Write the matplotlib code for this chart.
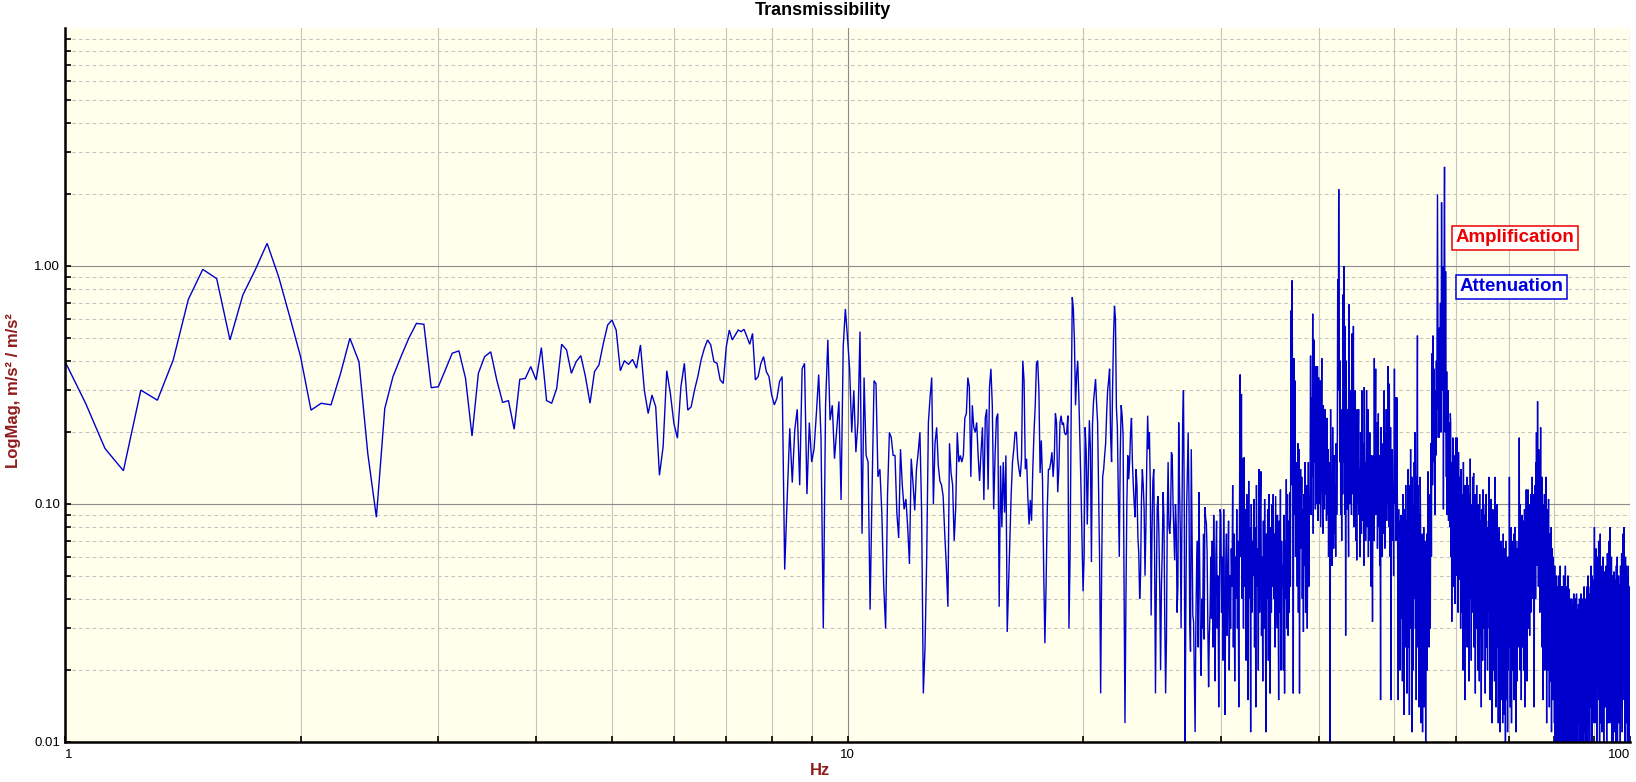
import numpy as np
import matplotlib
matplotlib.use("Agg")
import matplotlib.pyplot as plt
from matplotlib.ticker import LogLocator, NullFormatter, FixedLocator, FixedFormatter

plt.rcParams['font.family'] = ['Liberation Sans', 'DejaVu Sans']

# FFT frequency grid of the measurement
freq_start = 1.0
freq_step = 0.0625

# Magnitudes in thousandths (m/s^2 / m/s^2 x 1000)
mag_1_8 = [
    397, 265, 171, 138, 301, 273, 403, 724, 968, 885, 489, 755, 962, 1245, 902, 612,
    416, 248, 265, 261, 354, 497, 396, 163, 88, 252, 343, 416, 497, 574, 569, 308,
    311, 366, 430, 440, 337, 193, 354, 416, 436, 332, 267, 272, 206, 334, 337, 378,
    332, 454, 272, 265, 306, 469, 444, 354, 396, 420, 343, 265, 360, 384, 473, 565,
    593, 538, 363, 400, 386, 405, 372, 466, 301, 240, 287, 256, 132, 174, 363, 292,
    218, 189, 311, 390, 248, 256, 301, 343, 403, 451, 489, 466, 396, 390, 332, 321,
    458, 538, 489, 513, 538, 530, 542, 505, 469, 521, 332, 343, 390, 416, 360, 343,
    287, 261, 278, 327, 343, 53, 107, 208,
]
mag_8_16 = [
    123, 205, 250, 120, 370, 390, 110, 220,
    150, 170, 240, 350, 190, 30, 260, 490,
    225, 260, 155, 205, 270, 104, 460, 660,
    500, 370, 200, 300, 165, 220, 530, 75,
    340, 160, 150, 36, 115, 330, 320, 130,
    140, 92, 45, 30, 110, 200, 190, 160,
    160, 92, 72, 170, 120, 95, 105, 80,
    56, 155, 123, 94, 140, 165, 200, 92,
    16, 25, 60, 220, 280, 340, 100, 180,
    210, 145, 125, 120, 108, 75, 55, 37,
    180, 135, 120, 70, 97, 200, 150, 160,
    150, 160, 230, 240, 340, 310, 130, 260,
    210, 200, 220, 160, 125, 165, 210, 104,
    230, 250, 115, 310, 370, 260, 95, 160,
    230, 240, 37, 145, 80, 150, 92, 160,
    29, 45, 72, 110, 150, 170, 200, 200,
]
mag_16_30 = [
    155, 140, 130, 155, 400, 330, 140, 155,
    107, 82, 104, 85, 140, 200, 260, 390, 400, 300, 135, 185, 127, 53, 26, 45,
    95, 140, 140, 150, 165, 130, 155, 240, 220, 112, 140, 220, 235, 215, 220, 200,
    195, 200, 235, 30, 60, 240, 740, 660, 480, 260, 350, 400, 290, 190, 120, 70,
    43, 60, 210, 165, 82, 140, 225, 170, 57, 215, 270, 300, 335, 265, 220, 115,
    57, 16, 53, 130, 140, 160, 180, 240, 300, 330, 370, 195, 150, 300, 500, 680,
    600, 255, 210, 107, 60, 160, 260, 235, 195, 52, 12, 38, 100, 160, 127, 150,
    200, 230, 150, 120, 100, 88, 140, 120, 73, 62, 40, 50, 104, 140, 120, 95,
    50, 80, 150, 235, 170, 200, 120, 34, 77, 125, 140, 60, 16, 45, 97, 108,
    75, 44, 20, 45, 64, 112, 87, 32, 16, 27, 87, 150, 80, 75, 87, 165,
    160, 100, 77, 58, 100, 80, 35, 45, 220, 120, 77, 30, 87, 220, 300, 100,
    10, 35, 95, 135, 200, 107, 32, 24, 170, 73, 34, 32, 18, 11, 32, 55,
    70, 25, 112, 56, 25, 19, 40, 30, 75, 27, 97, 87, 83, 62, 30, 17,
    28, 35, 60, 33, 70, 25, 90, 45, 18, 60, 85, 30, 50, 14, 40, 95,
]
mag_30_53 = [
    90, 35, 60, 22, 95, 40, 13, 55, 75, 28, 45, 85, 20, 50, 30, 65,
    45, 120, 25, 75, 18, 60, 40, 95, 30, 70, 14, 85, 350, 60, 290, 40,
    155, 30, 157, 45, 95, 22, 110, 60, 15, 125, 40, 80, 11, 100, 35, 70,
    50, 105, 25, 80, 14, 120, 45, 65, 20, 140, 35, 90, 137, 28, 60, 18,
    85, 30, 105, 50, 11, 75, 40, 95, 22, 110, 55, 16, 80, 35, 100, 45,
    110, 40, 75, 25, 108, 60, 30, 90, 50, 15, 85, 35, 115, 20, 70, 45,
    55, 20, 90, 16, 70, 40, 127, 30, 110, 28, 85, 35, 112, 45, 650, 120,
    870, 200, 16, 410, 90, 330, 60, 150, 120, 45, 180, 35, 170, 16, 90, 140,
    65, 130, 40, 95, 29, 110, 55, 150, 35, 85, 120, 30, 75, 150, 45, 105,
    110, 420, 90, 280, 130, 630, 75, 490, 150, 300, 95, 380, 100, 200, 380, 85,
    340, 100, 250, 330, 80, 190, 410, 120, 75, 260, 140, 95, 250, 110, 180, 85,
    230, 90, 170, 60, 150, 80, 10, 250, 70, 130, 55, 210, 100, 65, 160, 75,
    120, 60, 180, 90, 140, 880, 300, 2100, 600, 150, 400, 90, 180, 70, 250, 110,
    760, 150, 1000, 90, 560, 28, 400, 180, 95, 250, 120, 60, 690, 200, 100, 300,
    150, 90, 520, 110, 200, 560, 80, 250, 130, 300, 70, 180, 58, 250, 100, 160,
    250, 90, 140, 60, 200, 110, 75, 300, 130, 85, 180, 55, 310, 100, 150, 70,
    120, 300, 80, 170, 250, 60, 140, 95, 200, 70, 110, 45, 160, 85, 32, 120,
    160, 70, 410, 100, 180, 370, 90, 140, 220, 65, 130, 240, 80, 160, 55, 110,
    15, 210, 90, 150, 60, 120, 180, 75, 300, 110, 65, 200, 130, 250, 85, 140,
    100, 380, 150, 80, 320, 120, 60, 210, 15, 140, 90, 170, 70, 120, 50, 160,
    370, 100, 160, 280, 70, 130, 280, 90, 45, 15, 95, 30, 70, 20, 85, 40,
    90, 33, 60, 18, 110, 40, 75, 13, 95, 50, 25, 120, 35, 65, 16, 85,
    60, 140, 25, 95, 13, 120, 45, 170, 30, 75, 11, 130, 55, 20, 100, 40,
]
mag_53_100 = [
    150, 45, 200, 30, 130, 15, 80, 155, 510, 25, 120, 60, 14, 90, 40, 130,
    80, 12, 60, 40, 75, 11, 50, 30, 80, 14, 65, 25, 70, 10, 55, 35,
    75, 20, 60, 137, 40, 83, 25, 70, 110, 30, 95, 180, 60, 250, 430, 120,
    510, 150, 280, 370, 200, 90, 300, 250, 160, 400, 190, 600, 2000, 640, 250, 470,
    190, 550, 300, 340, 700, 200, 450, 1850, 500, 860, 300, 1000, 95, 400, 1200, 2610,
    700, 200, 950, 280, 130, 360, 90, 240, 150, 300, 85, 220, 120, 180, 80, 240,
    220, 60, 150, 32, 120, 80, 190, 45, 100, 160, 55, 130, 38, 90, 190, 70,
    150, 50, 190, 70, 110, 35, 165, 85, 48, 130, 60, 100, 30, 140, 75, 45,
    110, 35, 80, 20, 150, 55, 40, 95, 15, 120, 60, 30, 100, 45, 130, 25,
    70, 120, 30, 90, 18, 60, 110, 40, 155, 50, 85, 22, 100, 35, 65, 130,
    40, 95, 135, 25, 75, 50, 110, 16, 85, 60, 30, 120, 45, 70, 20, 90,
    100, 35, 70, 18, 110, 45, 85, 28, 60, 14, 95, 50, 75, 22, 115, 40,
    100, 30, 65, 45, 90, 16, 70, 40, 110, 25, 55, 80, 20, 60, 35, 85,
    55, 130, 30, 90, 15, 75, 45, 105, 25, 65, 12, 95, 40, 70, 20, 85,
    50, 95, 18, 70, 130, 35, 60, 14, 85, 40, 100, 25, 55, 75, 12, 65,
    45, 80, 20, 60, 11, 55, 30, 70, 15, 50, 25, 65, 12, 40, 75, 18,
    55, 13, 65, 30, 45, 10, 70, 25, 50, 15, 60, 35, 11, 55, 20, 45,
    60, 25, 130, 40, 75, 14, 55, 30, 80, 12, 45, 65, 20, 70, 35, 50,
    30, 75, 15, 55, 80, 20, 45, 70, 11, 60, 35, 50, 18, 65, 40, 25,
    70, 30, 55, 190, 45, 100, 20, 65, 35, 80, 15, 60, 40, 90, 25, 75,
    50, 85, 20, 70, 35, 95, 14, 60, 45, 80, 25, 115, 40, 65, 18, 90,
    60, 115, 40, 85, 30, 100, 55, 28, 90, 45, 70, 35, 110, 50, 80, 40,
    130, 45, 90, 60, 110, 35, 80, 14, 70, 120, 50, 95, 40, 150, 60, 200,
    90, 140, 55, 270, 80, 130, 45, 170, 100, 60, 150, 35, 110, 75, 210, 50,
    120, 40, 90, 25, 130, 55, 70, 15, 100, 45, 80, 30, 110, 20, 65, 85,
    60, 130, 35, 80, 12, 95, 50, 70, 20, 85, 40, 105, 25, 60, 14, 75,
    45, 70, 18, 55, 30, 80, 11, 50, 25, 65, 35, 15, 60, 40, 20, 55,
    40, 12, 55, 25, 8, 45, 18, 35, 9, 50, 15, 30, 7, 40, 20, 45,
    30, 10, 50, 22, 8, 40, 15, 55, 12, 35, 7, 45, 20, 30, 9, 40,
    45, 18, 30, 8, 50, 25, 12, 40, 9, 35, 20, 55, 10, 30, 15, 42,
    22, 45, 9, 30, 14, 50, 25, 7, 38, 18, 44, 11, 33, 20, 8, 40,
    35, 12, 28, 8, 40, 20, 30, 10, 38, 15, 25, 7, 42, 18, 32, 9,
    30, 14, 40, 9, 25, 35, 11, 42, 18, 28, 8, 36, 20, 30, 12, 38,
    15, 33, 9, 40, 22, 30, 7, 35, 17, 42, 12, 28, 20, 38, 10, 32,
    40, 18, 30, 8, 36, 14, 45, 22, 11, 34, 26, 9, 40, 16, 30, 12,
    35, 10, 45, 20, 30, 8, 50, 25, 15, 38, 12, 42, 28, 9, 35, 18,
    45, 22, 55, 14, 38, 28, 9, 50, 30, 18, 42, 12, 35, 24, 48, 16,
    30, 80, 20, 45, 12, 55, 35, 25, 65, 15, 40, 10, 50, 28, 60, 18,
    45, 22, 35, 70, 15, 50, 30, 8, 42, 25, 75, 12, 38, 55, 20, 40,
    28, 50, 11, 40, 22, 60, 16, 35, 45, 9, 30, 52, 18, 42, 25, 36,
    14, 48, 30, 55, 20, 38, 8, 45, 26, 62, 15, 40, 32, 12, 50, 24,
    70, 20, 45, 30, 80, 12, 40, 55, 18, 35, 25, 60, 10, 42, 28, 50,
    22, 38, 9, 45, 30, 15, 52, 25, 40, 11, 35, 48, 18, 30, 8, 42,
    30, 55, 14, 40, 22, 60, 10, 35, 45, 20, 28, 50, 12, 38, 25, 44,
    18, 46, 32, 9, 55, 24, 40, 14, 36, 62, 20, 30, 11, 48, 26, 38,
    75, 20, 42, 30, 80, 15, 50, 28, 10, 45, 35, 60, 18, 40, 22, 55,
    12, 38, 25, 50, 9, 42, 30, 18, 55, 22, 35, 8, 45, 28, 40, 15,
    30,
]

x_ticks = [1, 10, 100]
x_tick_labels = ['1', '10', '100']
y_ticks = [0.01, 0.1, 1.0]
y_tick_labels = ['0.01', '0.10', '1.00']

mag = np.array(mag_1_8 + mag_8_16 + mag_16_30 + mag_30_53 + mag_53_100, dtype=float) / 1000.0
freq = freq_start + freq_step * np.arange(len(mag))

W, H = 1636, 782
fig = plt.figure(figsize=(W / 100, H / 100), dpi=100)
fig.patch.set_facecolor('white')
ax = fig.add_axes([65 / W, 1 - 742 / H, 1565 / W, 714 / H])
ax.set_facecolor('#FFFFEB')
ax.set_xscale('log')
ax.set_yscale('log')
ax.set_xlim(1, 100)
ax.set_ylim(0.01, 10)

ax.xaxis.set_major_locator(FixedLocator(x_ticks))
ax.xaxis.set_major_formatter(FixedFormatter(x_tick_labels))
ax.yaxis.set_major_locator(FixedLocator(y_ticks))
ax.yaxis.set_major_formatter(FixedFormatter(y_tick_labels))
ax.xaxis.set_minor_locator(LogLocator(base=10, subs=np.arange(2, 10), numticks=30))
ax.yaxis.set_minor_locator(LogLocator(base=10, subs=np.arange(2, 10), numticks=30))
ax.xaxis.set_minor_formatter(NullFormatter())
ax.yaxis.set_minor_formatter(NullFormatter())

ax.set_axisbelow(True)
ax.xaxis.grid(True, which='major', color='#8C8C8C', lw=0.8)
ax.xaxis.grid(True, which='minor', color='#C4C4C4', lw=0.8)
ax.yaxis.grid(True, which='major', color='#8C8C8C', lw=0.8)
ax.yaxis.grid(True, which='minor', color='#C4C4C4', lw=0.75, linestyle=(0, (3.5, 3)))

for s in ['top', 'right']:
    ax.spines[s].set_visible(False)
for s in ['left', 'bottom']:
    ax.spines[s].set_linewidth(1.8)
    ax.spines[s].set_color('black')

ax.tick_params(which='both', direction='in', length=4, width=1.2, color='black',
               top=False, right=False)
ax.tick_params(axis='x', which='major', labelsize=9.5, pad=5)
ax.tick_params(axis='y', which='major', labelsize=9.5, pad=3.5)

labels = ax.get_xticklabels()
labels[0].set_horizontalalignment('left')
labels[-1].set_horizontalalignment('right')

ax.plot(freq, mag, color='#0000CD', lw=1.0, solid_joinstyle='miter')

fig.text(0.503, 0.987, 'Transmissibility', ha='center', va='center',
         fontsize=13, fontweight='bold', color='black')
fig.text(0.008, 0.501, 'LogMag, m/s² / m/s²', rotation=90, ha='center', va='center',
         fontsize=12, fontweight='bold', color='#901C1C')
fig.text(0.501, 0.0145, 'Hz', ha='center', va='center',
         fontsize=12, fontweight='bold', color='#901C1C')

fig.text(1515 / W, 1 - 238 / H, 'Amplification', ha='center', va='center',
         fontsize=13.5, fontweight='bold', color='#EE0000',
         bbox=dict(boxstyle='square,pad=0.17', fc='white', ec='#EE0000', lw=1.1))
fig.text(1511.5 / W, 1 - 287 / H, 'Attenuation', ha='center', va='center',
         fontsize=13.5, fontweight='bold', color='#0000DD',
         bbox=dict(boxstyle='square,pad=0.17', fc='white', ec='#0000DD', lw=1.1))

fig.savefig('out.png', dpi=100)
